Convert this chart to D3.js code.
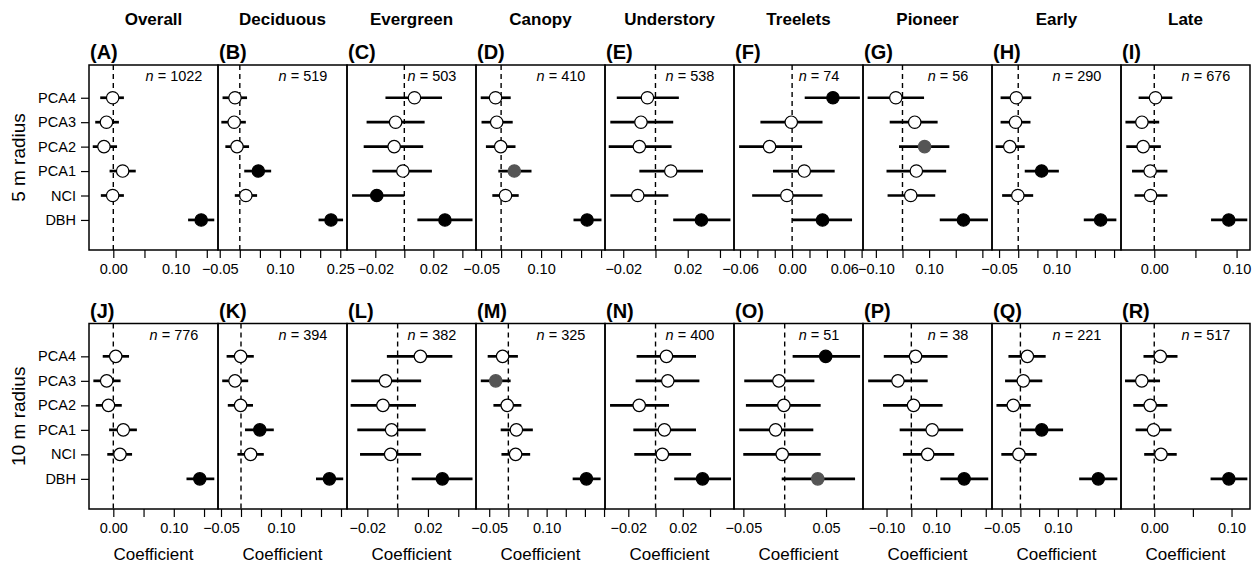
<!DOCTYPE html>
<html>
<head>
<meta charset="utf-8">
<script src="https://cdn.jsdelivr.net/npm/d3@7"></script>
<style>
  body { margin: 0; background: #fff; }
  svg { font-family: "Liberation Sans", Arial, sans-serif; }
</style>
</head>
<body>
<script>
// columns of the figure
const groups = ["Overall", "Deciduous", "Evergreen", "Canopy", "Understory", "Treelets", "Pioneer", "Early", "Late"];
const letters5 = ["A", "B", "C", "D", "E", "F", "G", "H", "I"];
const letters10 = ["J", "K", "L", "M", "N", "O", "P", "Q", "R"];
const rowLabels = ["5 m radius", "10 m radius"];
// predictors, top to bottom
const predictors = ["PCA4", "PCA3", "PCA2", "PCA1", "NCI", "DBH"];

const n5 = [1022, 519, 503, 410, 538, 74, 56, 290, 676];
const n10 = [776, 394, 382, 325, 400, 51, 38, 221, 517];

// 5 m radius: estimates and intervals (PCA4..DBH)
const est5 = [
  [-0.001, -0.011, -0.015, 0.015, -0.001, 0.141],
  [-0.012, -0.014, -0.007, 0.046, 0.015, 0.227],
  [0.007, -0.006, -0.007, -0.001, -0.019, 0.028],
  [-0.014, -0.011, -0.001, 0.033, 0.011, 0.215],
  [-0.005, -0.009, -0.010, 0.0095, -0.011, 0.0285],
  [0.047, -0.001, -0.026, 0.014, -0.006, 0.035],
  [-0.025, 0.046, 0.083, 0.052, 0.031, 0.229],
  [-0.005, -0.007, -0.022, 0.061, -0.001, 0.215],
  [0.0015, -0.015, -0.0135, -0.005, -0.0045, 0.0905]
];
const lo5 = [
  [-0.021, -0.029, -0.033, -0.006, -0.020, 0.120],
  [-0.043, -0.046, -0.036, 0.011, -0.0125, 0.196],
  [-0.013, -0.026, -0.028, -0.022, -0.036, 0.009],
  [-0.051, -0.049, -0.038, -0.007, -0.022, 0.181],
  [-0.024, -0.028, -0.029, -0.010, -0.028, 0.011],
  [0.0145, -0.0365, -0.061, -0.022, -0.046, 0.0],
  [-0.131, -0.048, -0.013, -0.060, -0.056, 0.140],
  [-0.046, -0.046, -0.059, 0.017, -0.042, 0.171],
  [-0.019, -0.035, -0.034, -0.027, -0.024, 0.069]
];
const hi5 = [
  [0.017, 0.009, 0.006, 0.036, 0.017, 0.162],
  [0.018, 0.015, 0.023, 0.078, 0.043, 0.257],
  [0.026, 0.014, 0.013, 0.019, 0.0, 0.047],
  [0.024, 0.029, 0.036, 0.076, 0.044, 0.251],
  [0.0145, 0.011, 0.010, 0.0295, 0.008, 0.0465],
  [0.078, 0.035, 0.0115, 0.049, 0.035, 0.069],
  [0.081, 0.132, 0.176, 0.164, 0.123, 0.321],
  [0.034, 0.032, 0.017, 0.106, 0.039, 0.256],
  [0.022, 0.006, 0.008, 0.016, 0.016, 0.113]
];
// 0 = not significant, 1 = significant, 2 = marginal
const sig5 = [
  [0, 0, 0, 0, 0, 1],
  [0, 0, 0, 1, 0, 1],
  [0, 0, 0, 0, 1, 1],
  [0, 0, 0, 2, 0, 1],
  [0, 0, 0, 0, 0, 1],
  [1, 0, 0, 0, 0, 1],
  [0, 0, 2, 0, 0, 1],
  [0, 0, 0, 1, 0, 1],
  [0, 0, 0, 0, 0, 1]
];

// 10 m radius
const est10 = [
  [0.004, -0.011, -0.008, 0.0165, 0.011, 0.143],
  [-0.001, -0.015, -0.001, 0.047, 0.024, 0.221],
  [0.015, -0.008, -0.0097, -0.004, -0.0046, 0.0295],
  [-0.015, -0.033, -0.003, 0.021, 0.019, 0.204],
  [0.008, 0.009, -0.012, 0.0065, 0.005, 0.0345],
  [0.0496, -0.007, -0.001, -0.011, -0.003, 0.040],
  [0.017, -0.054, 0.009, 0.084, 0.066, 0.213],
  [0.0185, 0.0077, -0.019, 0.057, -0.004, 0.208],
  [0.0078, -0.0161, -0.0052, -0.0009, 0.0087, 0.0965]
];
const lo10 = [
  [-0.0175, -0.033, -0.029, -0.007, -0.010, 0.121],
  [-0.036, -0.047, -0.033, 0.010, -0.009, 0.1875],
  [-0.0071, -0.0306, -0.031, -0.0266, -0.0248, 0.0093],
  [-0.054, -0.072, -0.039, -0.020, -0.018, 0.168],
  [-0.0139, -0.0146, -0.0334, -0.0163, -0.0156, 0.0137],
  [0.0096, -0.0489, -0.0469, -0.055, -0.0501, -0.0036],
  [-0.111, -0.174, -0.114, -0.047, -0.034, 0.117],
  [-0.032, -0.041, -0.064, 0.0008, -0.051, 0.157],
  [-0.0139, -0.0378, -0.0271, -0.0241, -0.013, 0.0729]
];
const hi10 = [
  [0.026, 0.012, 0.014, 0.039, 0.031, 0.167],
  [0.032, 0.018, 0.030, 0.082, 0.057, 0.2555],
  [0.0361, 0.0155, 0.0121, 0.0185, 0.0155, 0.0494],
  [0.025, 0.006, 0.034, 0.064, 0.057, 0.241],
  [0.0297, 0.0322, 0.0099, 0.0297, 0.0261, 0.0554],
  [0.0912, 0.0359, 0.0435, 0.0346, 0.0435, 0.0851],
  [0.146, 0.066, 0.126, 0.209, 0.173, 0.310],
  [0.0675, 0.0585, 0.0275, 0.114, 0.0435, 0.259],
  [0.0301, 0.0075, 0.0171, 0.0223, 0.0291, 0.1205]
];
const sig10 = [
  [0, 0, 0, 0, 0, 1],
  [0, 0, 0, 1, 0, 1],
  [0, 0, 0, 0, 0, 1],
  [0, 2, 0, 0, 0, 1],
  [0, 0, 0, 0, 0, 1],
  [1, 0, 0, 0, 0, 2],
  [0, 0, 0, 0, 0, 1],
  [0, 0, 0, 1, 0, 1],
  [0, 0, 0, 0, 0, 1]
];

// axis limits, ticks and labelled ticks
const xlim5 = [[-0.039, 0.168], [-0.0543, 0.2668], [-0.0395, 0.0494], [-0.0628, 0.2598], [-0.0313, 0.0487],
  [-0.0669, 0.0816], [-0.1483, 0.3362], [-0.0684, 0.2681], [-0.0404, 0.1163]];
const xlim10 = [[-0.0402, 0.1731], [-0.0575, 0.265], [-0.0334, 0.0517], [-0.0845, 0.2525], [-0.0371, 0.0576],
  [-0.0613, 0.0947], [-0.1948, 0.3252], [-0.0759, 0.2687], [-0.043, 0.1239]];
const ticks5 = [[0, 0.05, 0.10, 0.15], [-0.05, 0, 0.05, 0.10, 0.15, 0.20, 0.25], [-0.02, 0, 0.02, 0.04],
  [-0.05, 0, 0.05, 0.10, 0.15, 0.20, 0.25], [-0.02, 0, 0.02, 0.04], [-0.06, -0.04, -0.02, 0, 0.02, 0.04, 0.06, 0.08],
  [-0.1, 0, 0.1, 0.2, 0.3], [-0.05, 0, 0.05, 0.10, 0.15, 0.20, 0.25], [0, 0.05, 0.10]];
const labels5 = [[0, 0.10], [-0.05, 0.10, 0.25], [-0.02, 0.02], [-0.05, 0.10], [-0.02, 0.02], [-0.06, 0, 0.06],
  [-0.1, 0.1], [-0.05, 0.10], [0, 0.10]];
const ticks10 = [[0, 0.05, 0.10, 0.15], [-0.05, 0, 0.05, 0.10, 0.15, 0.20, 0.25], [-0.02, 0, 0.02, 0.04],
  [-0.05, 0, 0.05, 0.10, 0.15, 0.20, 0.25], [-0.02, 0, 0.02, 0.04], [-0.05, 0, 0.05],
  [-0.1, 0, 0.1, 0.2, 0.3], [-0.05, 0, 0.05, 0.10, 0.15, 0.20, 0.25], [0, 0.05, 0.10]];
const labels10 = [[0, 0.10], [-0.05, 0.10], [-0.02, 0.02], [-0.05, 0.10], [-0.02, 0.02], [-0.05, 0.05],
  [-0.1, 0.1], [-0.05, 0.10], [0, 0.10]];

const W = 1258, H = 565;
const fills = ["#fff", "#000", "#555"];
const fmt = d3.format(".2f");

const svg = d3.select("body").append("svg")
  .attr("width", W).attr("height", H);

const xBand = d3.scaleBand().domain(d3.range(groups.length)).range([89, 1250]);

const rows = [
  {top: 65, bottom: 250, est: est5, lo: lo5, hi: hi5, sig: sig5, n: n5, xlim: xlim5, ticks: ticks5, labels: labels5, letters: letters5},
  {top: 323.5, bottom: 509, est: est10, lo: lo10, hi: hi10, sig: sig10, n: n10, xlim: xlim10, ticks: ticks10, labels: labels10, letters: letters10}
];

// column titles
svg.selectAll("text.title")
  .data(groups)
  .enter().append("text")
  .attr("class", "title")
  .attr("x", (d, i) => xBand(i) + xBand.bandwidth() / 2)
  .attr("y", 25)
  .attr("text-anchor", "middle")
  .style("font-size", "17px").style("font-weight", "bold")
  .text(d => d);

rows.forEach(function(row, r) {
  const y = d3.scaleLinear().domain([-0.23, 7.34]).range([row.bottom, row.top]);

  // row label
  svg.append("text")
    .attr("transform", `translate(25,${(row.top + row.bottom) / 2}) rotate(-90)`)
    .attr("text-anchor", "middle")
    .style("font-size", "19px")
    .text(rowLabels[r]);

  // y axis on the first panel
  const yAxis = d3.axisLeft(y)
    .tickValues(predictors.map((p, i) => 6 - i))
    .tickFormat(v => predictors[6 - v])
    .tickSize(8).tickPadding(5);
  svg.append("g")
    .attr("transform", `translate(${xBand(0)},0)`)
    .call(yAxis)
    .call(g => g.select(".domain").remove())
    .call(g => g.selectAll("line").attr("stroke-width", 1.2))
    .call(g => g.selectAll("text").style("font-size", "14.5px").style("font-family", "Liberation Sans, Arial, sans-serif"));

  groups.forEach(function(gname, j) {
    const x0 = xBand(j), x1 = x0 + xBand.bandwidth();
    const x = d3.scaleLinear().domain(row.xlim[j]).range([x0, x1]);
    const g = svg.append("g");

    // zero line
    g.append("line")
      .attr("x1", x(0)).attr("x2", x(0))
      .attr("y1", row.top).attr("y2", row.bottom)
      .attr("stroke", "#000").attr("stroke-width", 1.4)
      .attr("stroke-dasharray", "5,4");

    // x axis
    const xAxis = d3.axisBottom(x)
      .tickValues(row.ticks[j])
      .tickFormat(v => row.labels[j].some(l => Math.abs(l - v) < 1e-9) ? fmt(v) : "")
      .tickSize(8).tickPadding(6);
    g.append("g")
      .attr("transform", `translate(0,${row.bottom})`)
      .call(xAxis)
      .call(a => a.select(".domain").remove())
      .call(a => a.selectAll("line").attr("stroke-width", 1.2))
      .call(a => a.selectAll("text").style("font-size", "14.5px").style("font-family", "Liberation Sans, Arial, sans-serif"));

    // whiskers
    const idx = d3.range(predictors.length);
    g.selectAll("line.ci")
      .data(idx)
      .enter().append("line")
      .attr("class", "ci")
      .attr("x1", i => x(row.lo[j][i]))
      .attr("x2", i => x(row.hi[j][i]))
      .attr("y1", i => y(6 - i)).attr("y2", i => y(6 - i))
      .attr("stroke", "#000").attr("stroke-width", 2.7);

    // points
    g.selectAll("circle")
      .data(idx)
      .enter().append("circle")
      .attr("cx", i => x(row.est[j][i]))
      .attr("cy", i => y(6 - i))
      .attr("r", 6.2)
      .attr("fill", i => fills[row.sig[j][i]])
      .attr("stroke", i => row.sig[j][i] === 2 ? "#555" : "#000")
      .attr("stroke-width", 1.2);

    // box
    g.append("rect")
      .attr("x", x0).attr("y", row.top)
      .attr("width", x1 - x0).attr("height", row.bottom - row.top)
      .attr("fill", "none").attr("stroke", "#000").attr("stroke-width", 1.5);

    // n label
    const nt = g.append("text")
      .attr("x", x0 + 85)
      .attr("y", y(7) + 8)
      .attr("text-anchor", "middle")
      .style("font-size", "14.5px");
    nt.append("tspan").style("font-style", "italic").text("n");
    nt.append("tspan").text(" = " + row.n[j]);

    // panel letter
    g.append("text")
      .attr("x", x0 + 1)
      .attr("y", row.top - 6)
      .style("font-size", "20px").style("font-weight", "bold")
      .text("(" + row.letters[j] + ")");

    if (r === 1) {
      g.append("text")
        .attr("x", (x0 + x1) / 2)
        .attr("y", 560)
        .attr("text-anchor", "middle")
        .style("font-size", "17px")
        .text("Coefficient");
    }
  });
});
</script>
</body>
</html>
